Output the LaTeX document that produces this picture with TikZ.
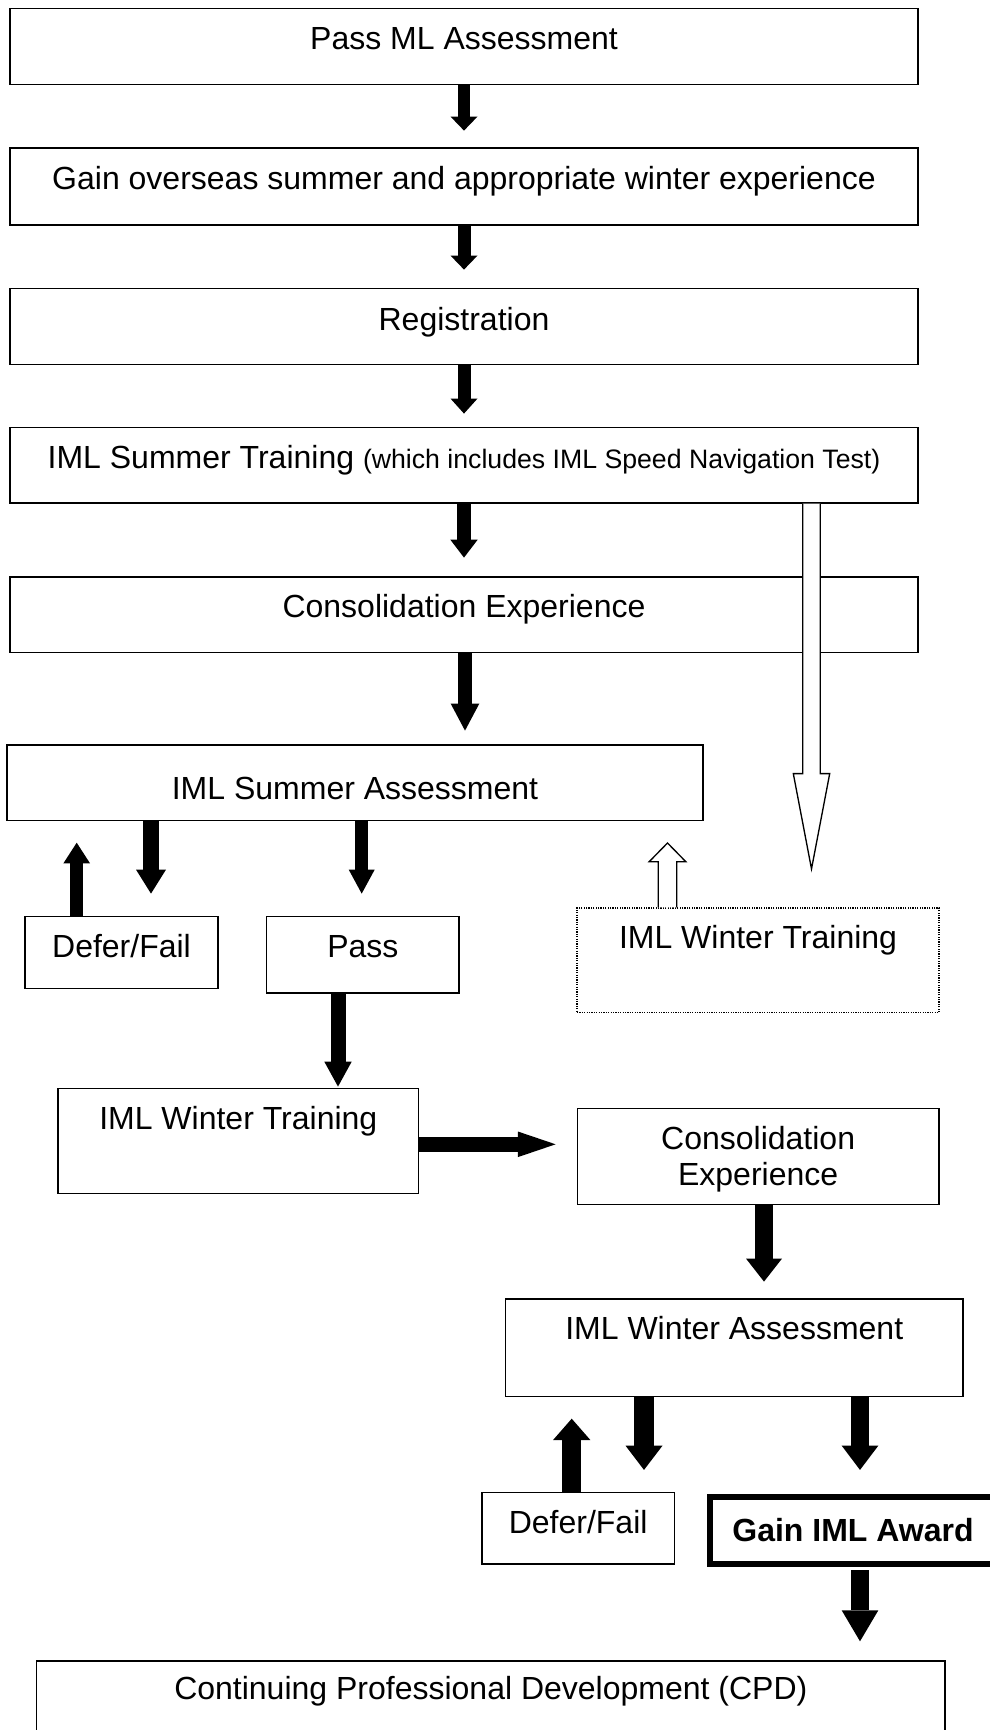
\documentclass[tikz,border=0pt]{standalone}
\usepackage{fontspec}
\setmainfont{Liberation Sans}
\usetikzlibrary{arrows.meta,calc}
\tikzset{
  box/.style={draw, line width=0.9pt, inner sep=0pt, fill=white},
  dotbox/.style={draw, line width=1.1pt, dash pattern=on 0.9pt off 0.9pt, inner sep=0pt},
  boldbox/.style={draw, line width=4.5pt, inner sep=0pt},
  txt/.style={anchor=base, inner sep=0pt, font=\fontsize{24pt}{26.6pt}\selectfont},
  btxt/.style={txt, font=\fontsize{24pt}{26.6pt}\selectfont\bfseries},
  blk/.style n args={4}{line width=#1, -{Triangle[width=#2,length=#3,line width=0pt]}, shorten >=0pt},
  hollow/.style={draw, fill=white, line width=1pt, line join=miter}
}
\begin{document}
\begin{tikzpicture}[x=0.75pt,y=-0.75pt]
\useasboundingbox (0,0) rectangle (989,1730);

% boxes
\node[box, minimum width=681pt, minimum height=57pt] (b1) at (464,46.5) {};
\node[box, minimum width=681pt, minimum height=57.75pt] (b2) at (464,186.5) {};
\node[box, minimum width=681pt, minimum height=56.7pt] (b3) at (464,326.5) {};
\node[box, minimum width=681pt, minimum height=56.8pt] (b4) at (464,465.15) {};
\node[box, minimum width=681pt, minimum height=56.8pt] (b5) at (464,614.85) {};
\node[box, minimum width=522pt, minimum height=56.8pt] (b6) at (355,782.85) {};
\node[box, minimum width=144.75pt, minimum height=53.85pt] (b7) at (121.5,952.6) {};
\node[box, minimum width=144.2pt, minimum height=57.2pt] (b8) at (362.85,954.85) {};
\node[dotbox, minimum width=271.5pt, minimum height=78.5pt] (wtd) at (758,960.35) {};
\node[box, minimum width=270.4pt, minimum height=79.1pt] (b9) at (238.25,1141) {};
\node[box, minimum width=271.3pt, minimum height=71.9pt] (b10) at (758.15,1156.55) {};
\node[box, minimum width=343.1pt, minimum height=73.3pt] (b11) at (734.25,1347.85) {};
\node[box, minimum width=144.2pt, minimum height=53.8pt] (b12) at (578.15,1528.15) {};
\node[boldbox, minimum width=217.7pt, minimum height=50.25pt] (b13) at (854.85,1530.8) {};
\node[box, minimum width=681.2pt, minimum height=74.25pt] (b14) at (490.85,1710.5) {};

% texts
\node[txt] (t1) at (464,50) {Pass ML Assessment};
\node[txt] (t2) at (464,190) {Gain overseas summer and appropriate winter experience};
\node[txt] (t3) at (464,330) {Registration};
\node[txt] (t4) at (464,468) {IML Summer Training {\fontsize{20pt}{23pt}\selectfont(which includes IML Speed Navigation Test)}};
\node[txt] (t5) at (464,617) {Consolidation Experience};
\node[txt] (t6) at (355,799) {IML Summer Assessment};
\node[txt] (t7) at (121.5,957) {Defer/Fail};
\node[txt] (t8) at (362.85,957) {Pass};
\node[txt] (twtd) at (758,948.3) {IML Winter Training};
\node[txt] (t9) at (238.25,1129) {IML Winter Training};
\node[txt] (t10) at (758.15,1149.6) {\begin{tabular}[t]{@{}c@{}}Consolidation\\Experience\end{tabular}};
\node[txt] (t11) at (734.25,1339.4) {IML Winter Assessment};
\node[txt] (t12) at (578.15,1533.3) {Defer/Fail};
\node[btxt] (t13) at (853,1541.5) {Gain IML Award};
\node[txt] (t14) at (490.85,1699.5) {Continuing Professional Development (CPD)};

% solid arrows
\draw[blk={9.4pt}{20.25pt}{10.5pt}{}] (b1.south) -- ($(b1.south)+(0,45.5)$);
\draw[blk={9.75pt}{20.25pt}{10.5pt}{}] (b2.south) -- ($(b2.south)+(0,44)$);
\draw[blk={9.75pt}{20.25pt}{11.25pt}{}] (b3.south) -- ($(b3.south)+(0,48.7)$);
\draw[blk={10.1pt}{20.6pt}{13.5pt}{}] (b4.south) -- ($(b4.south)+(0,54)$);
\draw[blk={11pt}{21.5pt}{20.25pt}{}] ($(b5.south)+(1,0)$) -- ($(b5.south)+(1,77.3)$);
\draw[blk={11.8pt}{22.5pt}{18pt}{}] ($(b6.south)+(-204,0)$) -- ($(b6.south)+(-204,72.3)$);
\draw[blk={10pt}{20pt}{15.5pt}{}] ($(b7.north)+(-44.8,0)$) -- ($(b7.north)+(-44.8,-73.4)$);
\draw[blk={9.75pt}{19.5pt}{18pt}{}] ($(b6.south)+(6.7,0)$) -- ($(b6.south)+(6.7,72.3)$);
\draw[blk={11.25pt}{20.6pt}{18.75pt}{}] ($(b8.south)+(-24.85,0)$) -- ($(b8.south)+(-24.85,93)$);
\draw[blk={11pt}{19.2pt}{28.3pt}{}] ($(b9.east)+(0,3.3)$) -- ($(b9.east)+(136.5,3.3)$);
\draw[blk={13.9pt}{27pt}{17.25pt}{}] ($(b10.south)+(5.85,0)$) -- ($(b10.south)+(5.85,76.5)$);
\draw[blk={15pt}{27.75pt}{18.2pt}{}] ($(b11.south)+(-90.25,0)$) -- ($(b11.south)+(-90.25,72.6)$);
\draw[blk={14pt}{28pt}{16pt}{}] ($(b12.north)+(-6.45,0)$) -- ($(b12.north)+(-6.45,-73)$);
\draw[blk={14pt}{27.5pt}{18.2pt}{}] ($(b11.south)+(125.75,0)$) -- ($(b11.south)+(125.75,72.6)$);
\draw[blk={14pt}{27.5pt}{23.25pt}{}] ($(b13.south)+(5.15,3)$) -- ($(b13.south)+(5.15,74)$);

% hollow arrows
\coordinate (h1s) at ($(b4.south)+(347.5,0)$);
\coordinate (h1t) at ($(b4.south)+(347.5,365.3)$);
\draw[hollow] ($(h1s)+(-8.8,0)$) -- ($(h1t)+(-8.8,-95.3)$) -- ($(h1t)+(-18.2,-95.3)$) -- (h1t)
  -- ($(h1t)+(18.2,-95.3)$) -- ($(h1t)+(8.8,-95.3)$) -- ($(h1s)+(8.8,0)$);
\coordinate (h2s) at ($(wtd.north)+(-90.5,0)$);
\coordinate (h2t) at ($(wtd.north)+(-90.5,-64.3)$);
\draw[hollow] ($(h2s)+(-9.2,0)$) -- ($(h2t)+(-9.2,18.7)$) -- ($(h2t)+(-18.3,18.7)$) -- (h2t)
  -- ($(h2t)+(18.3,18.7)$) -- ($(h2t)+(9.2,18.7)$) -- ($(h2s)+(9.2,0)$);
\end{tikzpicture}
\end{document}
